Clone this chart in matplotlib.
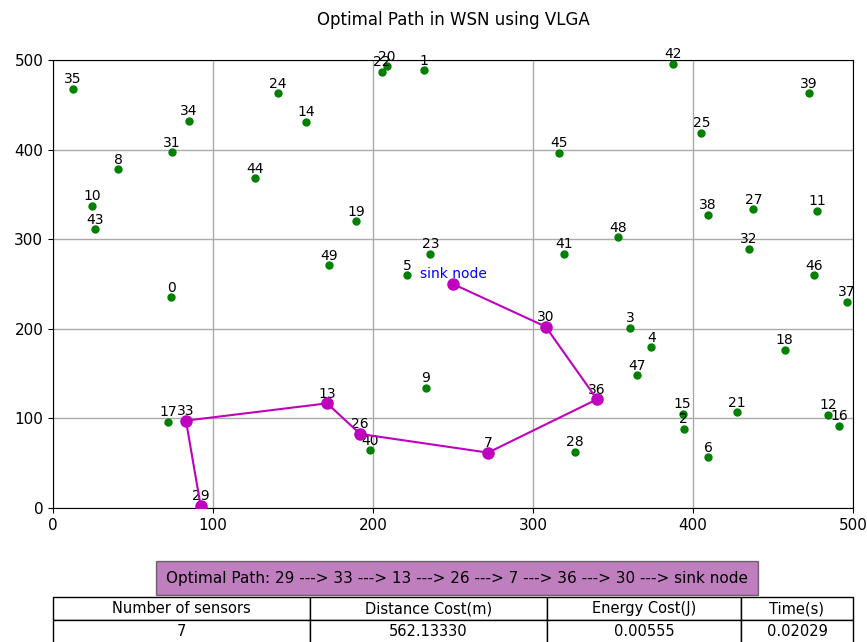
import numpy as np
import matplotlib
matplotlib.use("Agg")
import matplotlib.pyplot as plt

# sensor node positions (id -> x, y)
node_ids = list(range(50))
node_x = [73.8, 232.0, 394.2, 360.8, 374.0, 221.2, 409.4, 271.9, 40.6, 233.1,
          24.4, 477.5, 484.4, 171.3, 158.0, 393.5, 491.5, 72.1, 457.3, 189.4,
          208.8, 427.5, 205.6, 235.8, 140.6, 405.2, 192.0, 437.7, 326.0, 92.3,
          307.9, 74.4, 435.0, 83.1, 85.0, 12.5, 340.0, 496.0, 409.4, 472.5,
          198.3, 319.2, 387.3, 26.3, 126.0, 316.4, 475.4, 365.0, 353.1, 172.7]
node_y = [235.0, 488.5, 88.5, 201.3, 179.3, 259.7, 56.5, 61.8, 378.0, 134.0,
          337.0, 331.8, 104.2, 116.8, 431.0, 105.0, 91.5, 96.4, 176.7, 320.0,
          493.0, 106.8, 487.0, 284.0, 463.0, 418.5, 82.6, 333.3, 62.9, 2.2,
          202.4, 397.0, 289.4, 97.5, 432.0, 467.6, 121.3, 229.9, 327.0, 462.8,
          64.3, 284.0, 496.0, 311.0, 368.0, 396.5, 259.7, 148.0, 302.0, 271.0]

sink = (250, 250)
path = [29, 33, 13, 26, 7, 36, 30]

col_labels = ["Number of sensors", "Distance Cost(m)", "Energy Cost(J)", "Time(s)"]
row_values = ["7", "562.13330", "0.00555", "0.02029"]

fig = plt.figure(figsize=(8.67, 6.42), dpi=100)
ax = fig.add_axes([53 / 867, 1 - 508 / 642, 800 / 867, 448 / 642])

ax.plot(node_x, node_y, 'o', color='green', ms=5, zorder=3)
for i in node_ids:
    ax.annotate(str(i), (node_x[i], node_y[i]), textcoords='offset points',
                xytext=(0, 4), ha='center', fontsize=10)

px = [node_x[i] for i in path] + [sink[0]]
py = [node_y[i] for i in path] + [sink[1]]
ax.plot(px, py, 'o-', color='m', ms=8, lw=1.5, zorder=4)
ax.annotate("sink node", sink, textcoords='offset points', xytext=(0, 4),
            ha='center', fontsize=10, color='blue')

ax.set_xlim(0, 500)
ax.set_ylim(0, 500)
ax.tick_params(labelsize=11)
ax.grid(True, color='#aaaaaa', lw=1)
ax.set_title("Optimal Path in WSN using VLGA", pad=25)

path_txt = "Optimal Path: " + " ---> ".join(str(p) for p in path) + " ---> sink node"
fig.text(457 / 867, 1 - 578 / 642, path_txt, ha='center', va='center', fontsize=11,
         bbox=dict(facecolor='purple', alpha=0.5, edgecolor='black', pad=7))

tbl = ax.table(cellText=[row_values], colLabels=col_labels, cellLoc='center',
               colWidths=[0.321, 0.296, 0.2425, 0.14],
               bbox=[0, -0.302, 1, 0.103])
tbl.auto_set_font_size(False)
tbl.set_fontsize(10.5)

fig.savefig("out.png", dpi=100)
